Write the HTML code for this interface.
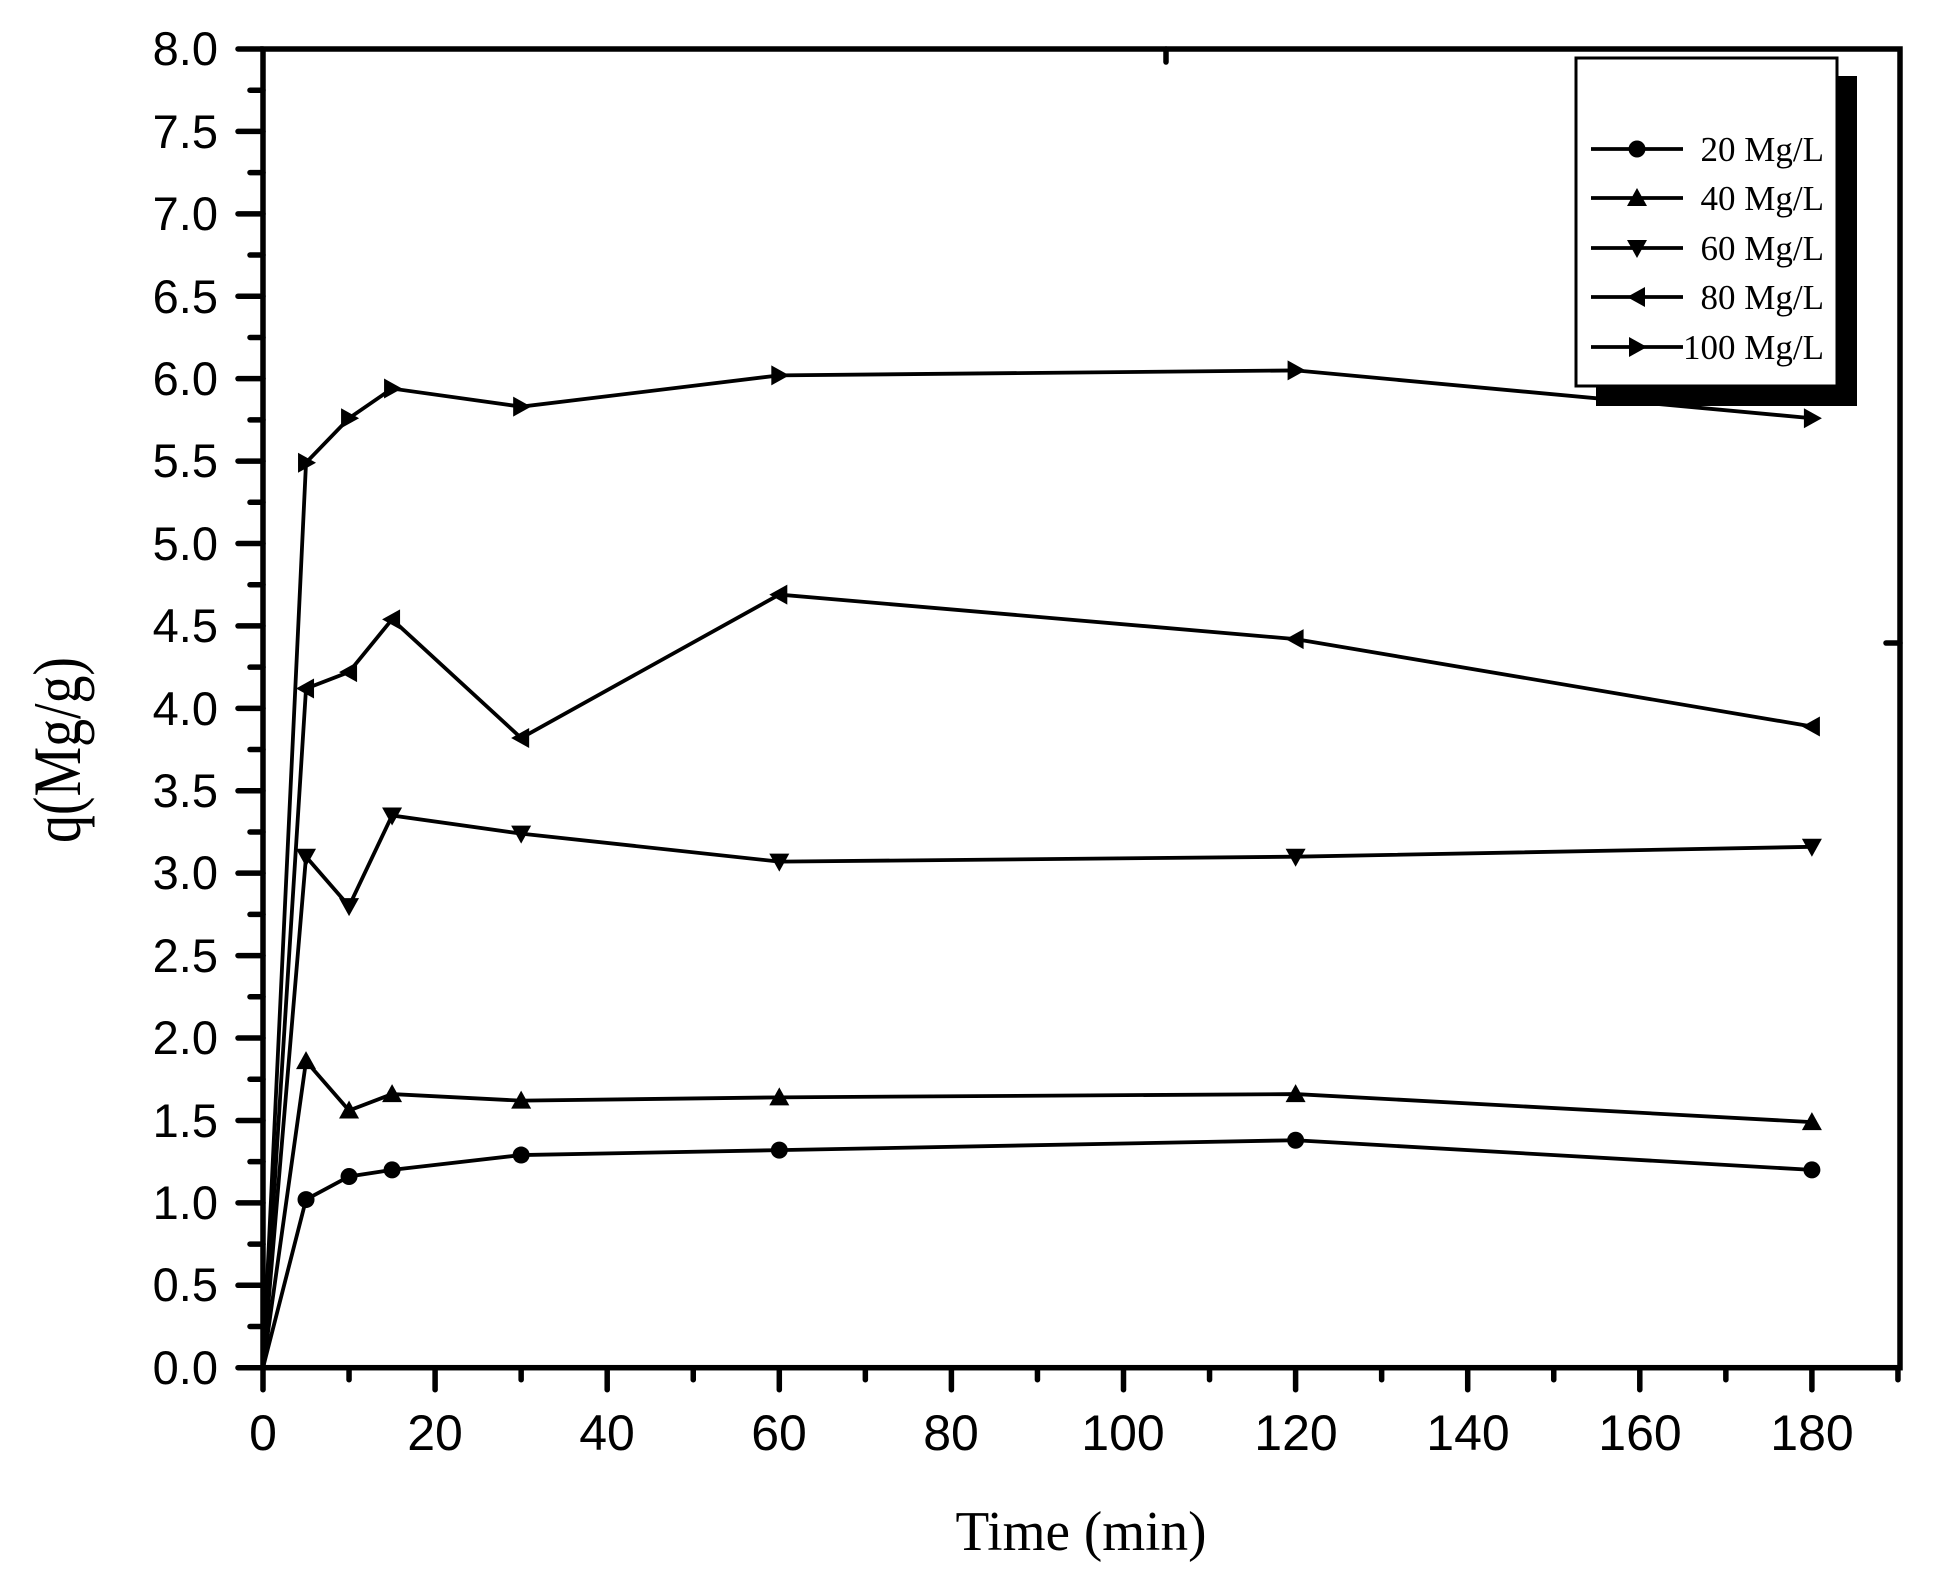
<!DOCTYPE html>
<html><head><meta charset="utf-8"><style>html,body{margin:0;padding:0;background:#fff}svg{display:block}</style></head>
<body>
<svg id="s" width="1936" height="1592" viewBox="0 0 1936 1592" xmlns="http://www.w3.org/2000/svg">
<rect width="1936" height="1592" fill="#fff"/>
<g id="ax" stroke="#000" stroke-width="5.5" fill="none" stroke-linecap="round">
<rect x="263" y="49" width="1637" height="1318.7"/>
<line x1="1166" y1="49" x2="1166" y2="62"/>
<line x1="1886" y1="643" x2="1900" y2="643"/>
</g>
<g font-family="Liberation Sans, Arial, sans-serif" font-size="47" text-anchor="end" fill="#000">
<text x="218" y="1384">0.0</text><text x="218" y="1301">0.5</text><text x="218" y="1219">1.0</text>
<text x="218" y="1137">1.5</text><text x="218" y="1054">2.0</text><text x="218" y="972">2.5</text>
<text x="218" y="889">3.0</text><text x="218" y="807">3.5</text><text x="218" y="725">4.0</text>
<text x="218" y="642">4.5</text><text x="218" y="560">5.0</text><text x="218" y="477">5.5</text>
<text x="218" y="395">6.0</text><text x="218" y="313">6.5</text><text x="218" y="230">7.0</text>
<text x="218" y="148">7.5</text><text x="218" y="65">8.0</text>
</g>
<g font-family="Liberation Sans, Arial, sans-serif" font-size="50" text-anchor="middle" fill="#000">
<text x="263" y="1450">0</text><text x="435" y="1450">20</text><text x="607" y="1450">40</text>
<text x="779" y="1450">60</text><text x="951" y="1450">80</text><text x="1123" y="1450">100</text>
<text x="1296" y="1450">120</text><text x="1468" y="1450">140</text><text x="1640" y="1450">160</text>
<text x="1812" y="1450">180</text>
</g>
<text x="1081" y="1550" font-family="Liberation Serif, serif" font-size="56" text-anchor="middle" textLength="251" lengthAdjust="spacingAndGlyphs">Time (min)</text>
<text transform="translate(80,750) rotate(-90)" font-family="Liberation Serif, serif" font-size="68" text-anchor="middle" textLength="186" lengthAdjust="spacingAndGlyphs">q(Mg/g)</text>
<g id="data" stroke="#000" stroke-width="3.8" fill="none"></g>
<g id="mk" fill="#000"></g>
<rect x="1596" y="76" width="261" height="330" fill="#000"/>
<rect x="1576" y="58" width="261" height="328" fill="#fff" stroke="#000" stroke-width="3"/>
<g id="leg" stroke="#000" stroke-width="3.8"></g>
<g font-family="Liberation Serif, serif" font-size="35" text-anchor="end" fill="#000">
<text x="1824" y="161">20 Mg/L</text><text x="1824" y="210">40 Mg/L</text>
<text x="1824" y="260">60 Mg/L</text><text x="1824" y="309">80 Mg/L</text>
<text x="1824" y="359">100 Mg/L</text>
</g>
</svg>
<script>
var NS="http://www.w3.org/2000/svg";
function X(t){return 263+8.605*t}function Y(v){return 1367.7-164.84*v}
function el(p,tag,a){var e=document.createElementNS(NS,tag);for(var k in a)e.setAttribute(k,a[k]);document.getElementById(p).appendChild(e);return e}
for(var t=0;t<=190;t+=10){var L=(t%20==0)?22:12;el("ax","line",{x1:X(t),y1:1367.7,x2:X(t),y2:1367.7+L});}
for(var i=0;i<=32;i++){var v=i*0.25,L=(i%2==0)?25:13;el("ax","line",{x1:263,y1:Y(v),x2:263-L,y2:Y(v)});}
var T=[0,5,10,15,30,60,120,180];
var D=[[0,1.02,1.16,1.2,1.29,1.32,1.38,1.2],[0,1.86,1.56,1.66,1.62,1.64,1.66,1.49],
[0,3.1,2.8,3.35,3.24,3.07,3.1,3.16],[0,4.12,4.22,4.54,3.82,4.69,4.42,3.89],
[0,5.49,5.76,5.94,5.83,6.02,6.05,5.76]];
function marker(k,x,y){var s=10;
 if(k==0)el("mk","circle",{cx:x,cy:y,r:8.5});
 else{var p;if(k==1)p=[[x,y-s],[x-s,y+s*0.8],[x+s,y+s*0.8]];
 else if(k==2)p=[[x,y+s],[x-s,y-s*0.8],[x+s,y-s*0.8]];
 else if(k==3)p=[[x-s,y],[x+s*0.8,y-s],[x+s*0.8,y+s]];
 else p=[[x+s,y],[x-s*0.8,y-s],[x-s*0.8,y+s]];
 el("mk","polygon",{points:p.map(function(q){return q.join(",")}).join(" ")});}}
for(var k=0;k<5;k++){var pts=T.map(function(t,i){return X(t)+","+Y(D[k][i])}).join(" ");
 el("data","polyline",{points:pts});
 for(var i=1;i<8;i++)marker(k,X(T[i]),Y(D[k][i]));}
var LY=[149,198,248,297,347];
for(var k=0;k<5;k++){el("leg","line",{x1:1591,y1:LY[k],x2:1683,y2:LY[k]});
 var g=document.getElementById("mk");marker(k,1637,LY[k]);
 document.getElementById("s").appendChild(g.lastChild);}
</script>
</body></html>
